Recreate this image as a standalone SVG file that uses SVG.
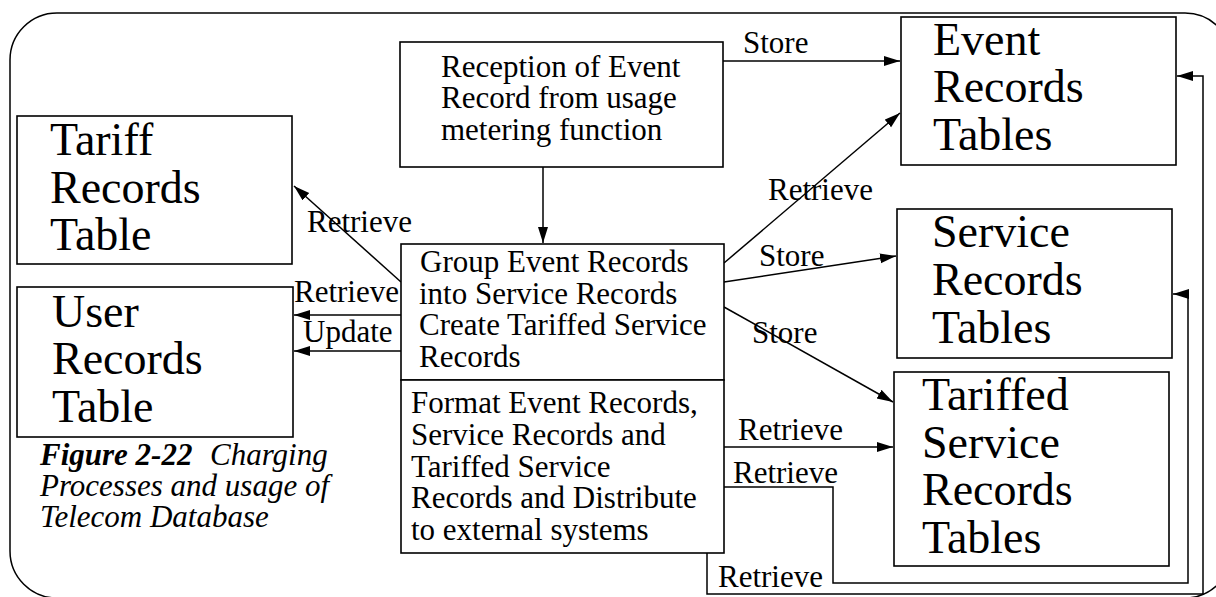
<svg xmlns="http://www.w3.org/2000/svg" width="1216" height="597" viewBox="0 0 1216 597">
  <style>
    .box { fill: #fff; stroke: #000; stroke-width: 1.6; }
    .frame { fill: none; stroke: #000; stroke-width: 1.5; }
    .conn { fill: none; stroke: #000; stroke-width: 1.5; }
    .small { font-size: 31px; }
    .big { font-size: 46px; }
    .cap { font-size: 31px; font-style: italic; }
    .capb { font-weight: bold; }
  </style>
  <defs>
    <marker id="arrow" markerUnits="userSpaceOnUse" markerWidth="17" markerHeight="11" refX="16" refY="5" orient="auto">
      <path d="M0,0 L16,5 L0,10 z" fill="#000"/>
    </marker>
  </defs>

  <rect width="1216" height="597" fill="#fff"/>

  <!-- outer rounded frame -->
  <rect class="frame" x="10" y="13" width="1222" height="585" rx="47" ry="47"/>

  <g font-family="'Liberation Serif', 'Times New Roman', Times, serif" fill="#000">
  <!-- connectors -->
  <g id="connectors">
    <line class="conn" x1="543" y1="167" x2="543" y2="243" marker-end="url(#arrow)"/>
    <line class="conn" x1="723" y1="61" x2="900" y2="61" marker-end="url(#arrow)"/>
    <line class="conn" x1="724" y1="263" x2="900" y2="113" marker-end="url(#arrow)"/>
    <line class="conn" x1="724" y1="282" x2="896" y2="256" marker-end="url(#arrow)"/>
    <line class="conn" x1="724" y1="307" x2="893" y2="402" marker-end="url(#arrow)"/>
    <line class="conn" x1="401" y1="282" x2="294" y2="186" marker-end="url(#arrow)"/>
    <line class="conn" x1="401" y1="315" x2="294" y2="315" marker-end="url(#arrow)"/>
    <line class="conn" x1="401" y1="351" x2="294" y2="351" marker-end="url(#arrow)"/>
    <line class="conn" x1="724" y1="447" x2="893" y2="447" marker-end="url(#arrow)"/>
    <polyline class="conn" points="724,487 833,487 833,583 1188,583 1188,294 1173,294" marker-end="url(#arrow)"/>
    <polyline class="conn" points="707,553 707,594 1203,594 1203,76 1177,76" marker-end="url(#arrow)"/>

    <text class="small" x="743" y="53">Store</text>
    <text class="small" x="768" y="200">Retrieve</text>
    <text class="small" x="759" y="266">Store</text>
    <text class="small" x="752" y="343">Store</text>
    <text class="small" x="307" y="232">Retrieve</text>
    <text class="small" x="294" y="302">Retrieve</text>
    <text class="small" x="303" y="342">Update</text>
    <text class="small" x="738" y="440">Retrieve</text>
    <text class="small" x="733" y="483">Retrieve</text>
    <text class="small" x="718" y="587">Retrieve</text>
  </g>

  <g id="tariff-records">
    <rect class="box" x="17" y="116" width="275" height="148"/>
    <text class="big" x="50" y="155">Tariff</text>
    <text class="big" x="50" y="203">Records</text>
    <text class="big" x="50" y="250">Table</text>
  </g>

  <g id="user-records">
    <rect class="box" x="17" y="287" width="276" height="150"/>
    <text class="big" x="52" y="327">User</text>
    <text class="big" x="52" y="374">Records</text>
    <text class="big" x="52" y="422">Table</text>
  </g>

  <g id="reception">
    <rect class="box" x="400" y="42" width="323" height="125"/>
    <text class="small" x="441" y="77">Reception of Event</text>
    <text class="small" x="441" y="108">Record from usage</text>
    <text class="small" x="441" y="140">metering function</text>
  </g>

  <g id="group-records">
    <rect class="box" x="401" y="244" width="323" height="136"/>
    <text class="small" x="420" y="272">Group Event Records</text>
    <text class="small" x="419" y="304">into Service Records</text>
    <text class="small" x="419" y="335">Create Tariffed Service</text>
    <text class="small" x="419" y="367">Records</text>
  </g>

  <g id="format-distribute">
    <rect class="box" x="401" y="380" width="323" height="173"/>
    <text class="small" x="411" y="413">Format Event Records,</text>
    <text class="small" x="411" y="445">Service Records and</text>
    <text class="small" x="411" y="477">Tariffed Service</text>
    <text class="small" x="411" y="508">Records and Distribute</text>
    <text class="small" x="411" y="540">to external systems</text>
  </g>

  <g id="event-records">
    <rect class="box" x="901" y="17" width="275" height="148"/>
    <text class="big" x="933" y="55">Event</text>
    <text class="big" x="933" y="102">Records</text>
    <text class="big" x="933" y="150">Tables</text>
  </g>

  <g id="service-records">
    <rect class="box" x="897" y="209" width="275" height="149"/>
    <text class="big" x="932" y="247">Service</text>
    <text class="big" x="932" y="295">Records</text>
    <text class="big" x="932" y="343">Tables</text>
  </g>

  <g id="tariffed-service-records">
    <rect class="box" x="894" y="372" width="275" height="194"/>
    <text class="big" x="922" y="410">Tariffed</text>
    <text class="big" x="922" y="458">Service</text>
    <text class="big" x="922" y="505">Records</text>
    <text class="big" x="922" y="553">Tables</text>
  </g>

  <g id="caption">
    <text class="cap" x="40" y="465"><tspan class="capb">Figure 2-22</tspan><tspan x="210">Charging</tspan></text>
    <text class="cap" x="40" y="496">Processes and usage of</text>
    <text class="cap" x="40" y="527">Telecom Database</text>
  </g>
  </g>
</svg>
